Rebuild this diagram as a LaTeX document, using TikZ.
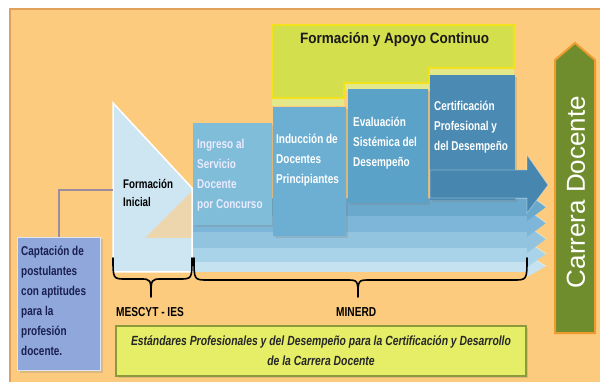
\documentclass[tikz,border=0pt]{standalone}
\usepackage{fontspec}
\setmainfont{Liberation Sans}
\newfontfamily\nar[FakeStretch=0.78]{Liberation Sans}
\newfontfamily\titlef[FakeStretch=0.9]{Liberation Sans}
\usetikzlibrary{shadows}
\definecolor{bgor}{HTML}{FCCB7D}
\definecolor{bgline}{HTML}{E2A15A}
\definecolor{gbox}{HTML}{D4DF4E}
\definecolor{gglow}{HTML}{E3E98A}
\definecolor{gyel}{HTML}{F2E21C}
\definecolor{capc}{HTML}{8FA7DB}
\definecolor{capt}{HTML}{1A1F50}
\definecolor{tric}{HTML}{CDE6F2}
\definecolor{trior}{HTML}{F6D39C}
\definecolor{ingc}{HTML}{80BDD9}
\definecolor{indc}{HTML}{6DAFD2}
\definecolor{evac}{HTML}{5BA2C9}
\definecolor{cerc}{HTML}{4B8BB3}
\definecolor{arrc}{HTML}{4786AF}
\definecolor{bandA}{HTML}{6AA8CC}
\definecolor{bandB}{HTML}{7DB6D8}
\definecolor{bandC}{HTML}{92C4DF}
\definecolor{bandD}{HTML}{A8D3E8}
\definecolor{bandE}{HTML}{C4E2EF}
\definecolor{botc}{HTML}{E5EE66}
\definecolor{botb}{HTML}{8C9A3C}
\definecolor{carc}{HTML}{6F8D2D}
\definecolor{carb}{HTML}{EE9A2E}
\definecolor{linkc}{HTML}{9C8C9C}
\begin{document}
\begin{tikzpicture}[x=1pt,y=-1pt,
  boxtxt/.style={font=\nar\bfseries\fontsize{12.8}{20}\selectfont, text=white, align=left, anchor=north west, inner sep=0pt},
  panel/.style={draw=none, anchor=north west, inner sep=0pt, drop shadow={shadow xshift=2pt, shadow yshift=-2pt, opacity=0.25}},
  bracepath/.style={draw=black, line width=1.6pt, line cap=round, line join=round},
  lbl/.style={font=\nar\bfseries\fontsize{13}{14}\selectfont, text=black, inner sep=0pt, anchor=north west}
]
\useasboundingbox (0,0) rectangle (600,382);
\fill[white] (0,0) rectangle (600,382);
\fill[bgor] (10,9) rectangle (600,382);
\draw[bgline, line width=1.2pt] (10,382) -- (10,9) -- (600,9);

% top green box with steps
\fill[gglow] (272,25) -- (514,25) -- (514,76) -- (429,76) -- (429,90) -- (344,90) -- (344,106) -- (272,106) -- cycle;
\path[fill=gbox, draw=gyel, line width=2.5pt] (272,25) -- (514,25) -- (514,68) -- (429,68) -- (429,83) -- (344,83) -- (344,98) -- (272,98) -- cycle;
\node[font=\titlef\bfseries\fontsize{15}{17}\selectfont, text=black!90, inner sep=0pt, anchor=north west] (title) at (300,32) {Formación y Apoyo Continuo};

% lower bands with chevrons
\foreach \t/\b/\c in {260/272/bandE, 246/262/bandD, 230/248/bandC, 214/232/bandB, 198/216/bandA}{
  \fill[\c] (193,\t) -- (527,\t) -- (527,\t-5) -- (546,{(\t+\b)/2}) -- (527,\b+5) -- (527,\b) -- (193,\b) -- cycle;
  \draw[white, opacity=0.45, line width=0.8pt] (193,\t) -- (527,\t) -- (527,\t-5) -- (546,{(\t+\b)/2});
}

% triangle Formacion Inicial
\path[fill=tric, draw=white, line width=1.5pt] (113,103) -- (192,188) -- (192,272) -- (113,272) -- cycle;
\fill[trior, opacity=0.8] (191,192) -- (145,238) -- (191,238) -- cycle;
\node[font=\nar\bfseries\fontsize{12.5}{18}\selectfont, text=black, align=left, anchor=north west, inner sep=0pt] (fi) at (123,179) {Formación\\Inicial};
\coordinate (fiw) at (113,190);

% blue panels
\node[panel, fill=ingc, minimum width=79, minimum height=102] (ing) at (193,123) {};
\node[panel, fill=indc, minimum width=73, minimum height=129] (ind) at (273,107) {};
\node[panel, fill=evac, minimum width=80, minimum height=114] (eva) at (348,89) {};
\node[panel, fill=cerc, minimum width=85, minimum height=125] (cer) at (430,75) {};

% main arrow
\path[fill=arrc, draw=white, draw opacity=0.35, line width=0.8pt] (430,170) -- (527,170) -- (527,155) -- (548,185) -- (527,213) -- (527,198) -- (430,198) -- cycle;

\node[boxtxt, text=white!92!blue] (ingt) at (197,139) {Ingreso al\\Servicio\\Docente\\por Concurso};
\node[boxtxt] (indt) at (276,134) {Inducción de\\Docentes\\Principiantes};
\node[boxtxt] (evat) at (353,117) {Evaluación\\Sistémica del\\Desempeño};
\node[boxtxt] (cert) at (434,101) {Certificación\\Profesional y\\del Desempeño};

% captacion box
\node[panel, fill=capc, draw=white!70!capc, line width=1pt, minimum width=83, minimum height=133] (cap) at (17,237) {};
\node[boxtxt, text=capt] (capt) at (21,246) {Captación de\\postulantes\\con aptitudes\\para la\\profesión\\docente.};
\draw[linkc, line width=2pt] (cap.north) |- (fiw);

% braces
\coordinate (m1) at (113,258); \coordinate (m2) at (192,258); \coordinate (mt) at (151,297);
\draw[bracepath] (m1) .. controls (113,279) .. (126,279) -- (140,279) .. controls (151,279) .. (mt)
  .. controls (151,279) .. (162,279) -- (179,279) .. controls (192,279) .. (m2);
\coordinate (n1) at (194,258); \coordinate (n2) at (527,258); \coordinate (nt) at (358,297);
\draw[bracepath] (n1) .. controls (194,280) .. (208,280) -- (346,280) .. controls (358,280) .. (nt)
  .. controls (358,280) .. (370,280) -- (513,280) .. controls (527,280) .. (n2);
\node[lbl] (mes) at (116,307) {MESCYT - IES};
\node[lbl] (min) at (336,307) {MINERD};

% bottom box
\node[panel, fill=botc, draw=botb, line width=1.5pt, minimum width=410, minimum height=50] (bot) at (115,325) {};
\node[font=\nar\bfseries\itshape\fontsize{13.3}{20}\selectfont, text=black!85, align=center, inner sep=0pt] (bott) at (321,351) {Estándares Profesionales y del Desempeño para la Certificación y Desarrollo\\de la Carrera Docente};

% Carrera Docente arrow
\path[fill=carc, draw=carb, line width=2pt] (555,333) -- (555,60) -- (575,43) -- (595,60) -- (595,333) -- cycle;
\node[rotate=90, font=\fontsize{26}{28}\selectfont, text=white, inner sep=0pt] (car) at (576,192) {Carrera Docente};
\end{tikzpicture}
\end{document}
